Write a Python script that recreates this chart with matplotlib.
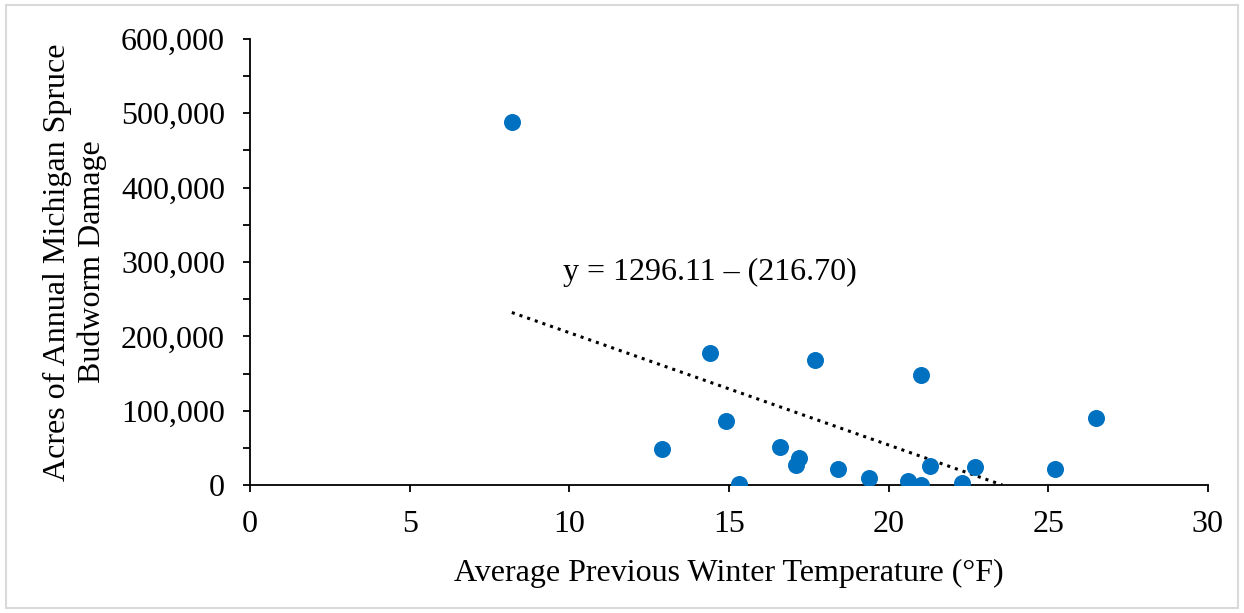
import numpy as np
import matplotlib
matplotlib.use("Agg")
import matplotlib.pyplot as plt
import matplotlib.patches as mpl_patches
from matplotlib.ticker import FuncFormatter, MultipleLocator

plt.rcParams["font.family"] = "serif"
plt.rcParams["font.serif"] = ["Liberation Serif", "DejaVu Serif"]

# average previous winter temperature (F) and acres of budworm damage
temps = [8.2, 12.9, 14.4, 14.9, 15.3, 16.6, 17.2, 17.1, 17.7, 18.4,
         19.4, 20.6, 21.0, 21.0, 21.3, 22.3, 22.7, 25.2, 26.5]
acres = [489000, 48500, 177500, 86000, 1000, 51000, 36000, 27000, 168500, 21500,
         9500, 6000, 148000, 500, 25500, 3000, 24500, 21500, 90000]
eq_text = "y = 1296.11 \u2013 (216.70)"

temps = np.array(temps)
acres = np.array(acres)

fig = plt.figure(figsize=(12.44, 6.13), dpi=100)
ax = fig.add_axes([0.201, 0.2088, 0.770, 0.7276])

ax.scatter(temps, acres, s=150, color="#0070C0", zorder=3, linewidths=0)

# linear trendline, cut where it hits the axis floor
slope, icpt = np.polyfit(temps, acres, 1)
x0 = temps.min()
x1 = -icpt / slope
xs = np.linspace(x0, x1, 200)
ax.plot(xs, slope * xs + icpt, ls=":", lw=2.2, color="black", zorder=2)

ax.text(14.4, 286000, eq_text, ha="center", va="center", fontsize=23)

ax.set_xlim(0, 30)
ax.set_ylim(0, 600000)
ax.xaxis.set_major_locator(MultipleLocator(5))
ax.yaxis.set_major_locator(MultipleLocator(100000))
ax.yaxis.set_minor_locator(MultipleLocator(50000))
ax.yaxis.set_major_formatter(FuncFormatter(lambda v, p: f"{int(v):,}"))

for s in ["top", "right"]:
    ax.spines[s].set_visible(False)
for s in ["left", "bottom"]:
    ax.spines[s].set_linewidth(1.3)

ax.tick_params(axis="both", which="both", direction="out", length=5, width=1.3, labelsize=23)
ax.tick_params(axis="x", pad=13)
ax.tick_params(axis="y", pad=13)

ax.set_xlabel("Average Previous Winter Temperature (\u00b0F)", fontsize=23, labelpad=14)
ax.set_ylabel("Acres of Annual Michigan Spruce\nBudworm Damage", fontsize=23, labelpad=10, linespacing=1.25)

border = mpl_patches.Rectangle((0.005, 0.008), 0.99, 0.984, transform=fig.transFigure,
                               fill=False, edgecolor="#d9d9d9", lw=1.5)
fig.patches.append(border)

fig.savefig("out.png", dpi=100)
